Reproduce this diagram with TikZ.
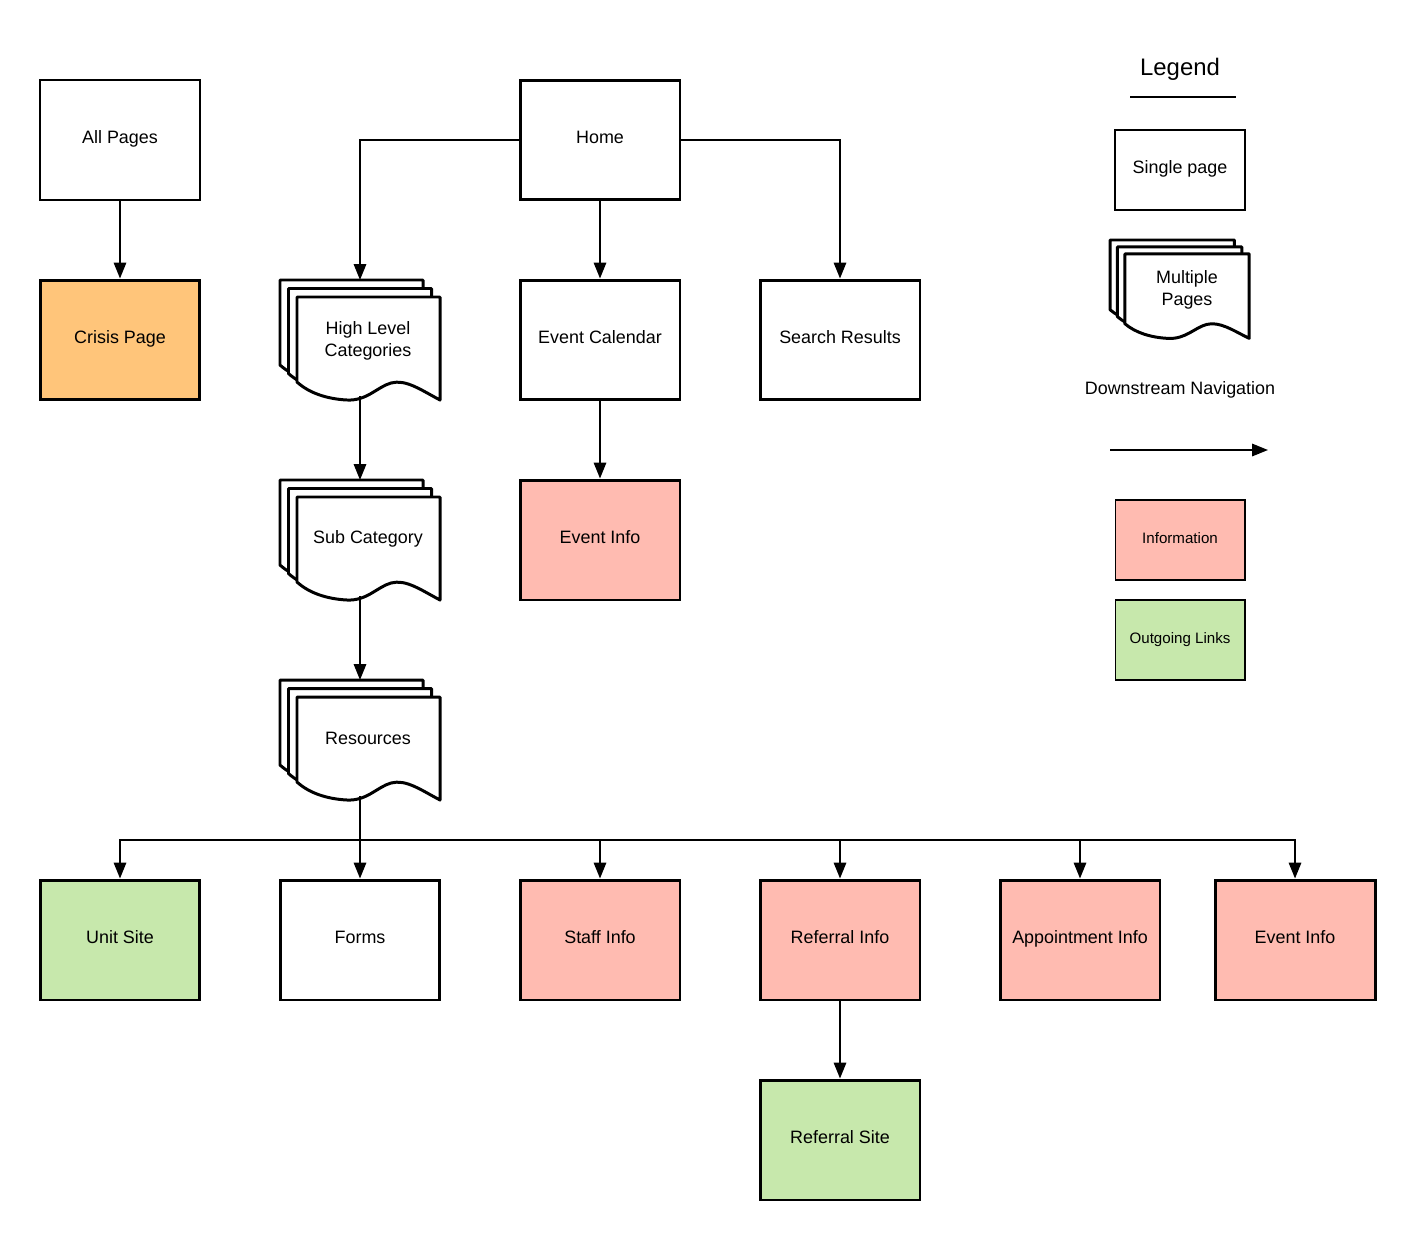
\documentclass[tikz,border=0pt]{standalone}
\usepackage{fontspec}
\setmainfont{Liberation Sans}
\usetikzlibrary{arrows.meta}
\definecolor{crisisorange}{HTML}{FFC57A}
\definecolor{infopink}{HTML}{FFBBB1}
\definecolor{linkgreen}{HTML}{C7E8AC}
\def\lbl{\fontsize{10.2}{12.5}\selectfont}
\def\smalllbl{\fontsize{8.6}{10.5}\selectfont}
\tikzset{
  pagebox/.style={draw, line width=1.7pt, minimum width=3.2cm, minimum height=2.4cm, align=center, font=\lbl, text height=0.6em, text depth=0.22em},
  thinbox/.style={pagebox, line width=1.1pt},
  keybox/.style={draw, line width=0.6pt, minimum width=2.6cm, minimum height=1.6cm, font=\smalllbl, text height=0.6em, text depth=0.22em},
  sheet/.style={draw, fill=white, line width=1.7pt, line join=round},
  nav/.style={line width=1.1pt, -{Triangle[length=9pt,width=7pt]}},
  pages/.pic={
    \foreach \d in {0,8.5,17}{
      \draw[sheet, shift={(\d,\d)}] (0,0) -- (143,0) -- (143,103)
        .. controls (124,93) and (109,82) .. (94,86)
        .. controls (80,90) and (70,104) .. (50,103)
        .. controls (30,102) and (12,96) .. (0,85) -- cycle;
    }
    \coordinate (-top) at (80,0);
    \coordinate (-bot) at (80,116);
  }
}

\begin{document}
\begin{tikzpicture}[x=0.02cm, y=-0.02cm]
  \useasboundingbox (0,0) rectangle (1415,1240);
  %%%%% PAGES %%%%%
  \node[thinbox] (allpages) at (120,140) {All Pages};
  \node[pagebox, fill=crisisorange] (crisis) at (120,340) {Crisis Page};
  \node[pagebox] (home) at (600,140) {Home};
  \node[pagebox] (calendar) at (600,340) {Event Calendar};
  \node[pagebox] (search) at (840,340) {Search Results};
  \node[pagebox, fill=infopink] (eventinfo) at (600,540) {Event Info};

  \pic (hlcpg) at (280,280) {pages};
  \node[font=\lbl, align=center] (hlc) at (368,341) {High Level\\Categories};
  \pic (subpg) at (280,480) {pages};
  \node[font=\lbl] (sub) at (368,539) {Sub Category};
  \pic (respg) at (280,680) {pages};
  \node[font=\lbl] (res) at (368,738) {Resources};

  \node[pagebox, fill=linkgreen] (unit) at (120,940) {Unit Site};
  \node[pagebox] (forms) at (360,940) {Forms};
  \node[pagebox, fill=infopink] (staff) at (600,940) {Staff Info};
  \node[pagebox, fill=infopink] (referral) at (840,940) {Referral Info};
  \node[pagebox, fill=infopink] (appt) at (1080,940) {Appointment Info};
  \node[pagebox, fill=infopink] (eventinfob) at (1295,940) {Event Info};
  \node[pagebox, fill=linkgreen] (refsite) at (840,1140) {Referral Site};

  %%%%% NAVIGATION %%%%%
  \draw[nav] (allpages) -- (crisis);
  \draw[nav] (home.west) -| (hlcpg-top);
  \draw[nav] (home) -- (calendar);
  \draw[nav] (home.east) -| (search);
  \draw[nav] (calendar) -- (eventinfo);
  \draw[nav] (hlcpg-bot) -- (subpg-top);
  \draw[nav] (subpg-bot) -- (respg-top);
  \coordinate (split) at (360,840);
  \draw[line width=1.1pt] (respg-bot) -- (split);
  \foreach \n in {unit,forms,staff,referral,appt,eventinfob}
    \draw[nav] (split) -| (\n);
  \draw[nav] (referral) -- (refsite);

  %%%%% LEGEND %%%%%
  \node[font=\fontsize{13.6}{16}\selectfont] (legend) at (1180,69) {Legend};
  \draw[line width=1.1pt] (1130,97) -- (1236,97);
  \node[draw, line width=1.1pt, minimum width=2.6cm, minimum height=1.6cm, font=\lbl, text height=0.6em, text depth=0.22em] (single) at (1180,170) {Single page};
  \pic[xscale=0.87, yscale=0.82] (keypg) at (1110,240) {pages};
  \node[font=\lbl, align=center] (multi) at (1187,290) {Multiple\\Pages};
  \node[font=\lbl] (down) at (1180,390) {Downstream Navigation};
  \coordinate (navA) at (1110,450);
  \coordinate (navB) at (1268,450);
  \draw[nav] (navA) -- (navB);
  \node[keybox, fill=infopink] (information) at (1180,540) {Information};
  \node[keybox, fill=linkgreen] (outgoing) at (1180,640) {Outgoing Links};
\end{tikzpicture}
\end{document}
